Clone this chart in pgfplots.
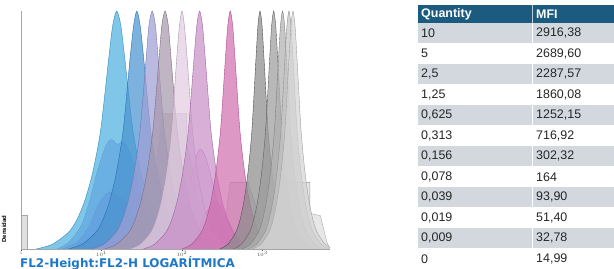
\documentclass[border=0pt]{standalone}
\usepackage{pgfplots}
\usepackage{pgfplotstable}
\pgfplotsset{compat=1.18}
\usepackage{fontspec}
\setmainfont{Liberation Sans}
\newfontfamily\titlefont{DejaVu Sans}

\definecolor{c1}{HTML}{4FB0E0}\definecolor{c1d}{HTML}{2A8CC0}
\definecolor{c2}{HTML}{4A94D0}\definecolor{c2d}{HTML}{2470B0}
\definecolor{c3}{HTML}{A0A0D6}\definecolor{c3d}{HTML}{7474B4}
\definecolor{c4}{HTML}{A898AC}\definecolor{c4d}{HTML}{806884}
\definecolor{c5}{HTML}{E2CCE2}\definecolor{c5d}{HTML}{B090B0}
\definecolor{c6}{HTML}{C890C8}\definecolor{c6d}{HTML}{A060A0}
\definecolor{c7}{HTML}{D070B0}\definecolor{c7d}{HTML}{B04890}
\definecolor{c8}{HTML}{8C8C8C}\definecolor{c8d}{HTML}{505050}
\definecolor{c9}{HTML}{9C9C9C}\definecolor{c9d}{HTML}{606060}
\definecolor{c10}{HTML}{B0B0B0}\definecolor{c10d}{HTML}{808080}
\definecolor{c11}{HTML}{C4C4C4}\definecolor{c11d}{HTML}{909090}
\definecolor{c12}{HTML}{D4D4D4}\definecolor{c12d}{HTML}{A0A0A0}
\definecolor{hdr}{HTML}{1C5B80}
\definecolor{rowshade}{HTML}{D3D8DF}
\definecolor{ttl}{HTML}{1E78C8}

\pgfplotstableread{
s c1 c2 c3 c4 c5 c6 c7 c8 c9 c10 c11 c12
0 0.19 0.59 0.88 1.04 1.35 1.52 2.00 2.47 2.64 2.75 2.83 2.88
0.02 0.39 0.76 1.03 1.19 1.48 1.66 2.12 2.57 2.74 2.85 2.93 2.98
0.07 0.59 0.93 1.18 1.34 1.61 1.80 2.24 2.67 2.84 2.95 3.03 3.08
0.12 0.69 1.015 1.255 1.415 1.675 1.87 2.30 2.72 2.89 3.00 3.08 3.13
0.2 0.79 1.10 1.33 1.49 1.74 1.94 2.36 2.77 2.94 3.05 3.13 3.18
0.32 0.89 1.185 1.405 1.565 1.805 2.01 2.42 2.82 2.99 3.10 3.18 3.23
0.5 0.99 1.27 1.48 1.64 1.87 2.08 2.48 2.87 3.04 3.15 3.23 3.28
0.8 1.09 1.355 1.555 1.715 1.935 2.15 2.54 2.92 3.09 3.20 3.28 3.33
0.94 1.14 1.40 1.59 1.75 1.97 2.185 2.57 2.945 3.115 3.225 3.305 3.355
1 1.19 1.44 1.63 1.79 2.00 2.22 2.60 2.97 3.14 3.25 3.33 3.38
0.94 1.24 1.48 1.67 1.83 2.03 2.255 2.63 2.995 3.165 3.275 3.355 3.405
0.8 1.29 1.525 1.705 1.865 2.065 2.29 2.66 3.02 3.19 3.30 3.38 3.43
0.5 1.39 1.61 1.78 1.94 2.13 2.36 2.72 3.07 3.24 3.35 3.43 3.48
0.32 1.49 1.695 1.855 2.015 2.195 2.43 2.78 3.12 3.29 3.40 3.48 3.53
0.2 1.59 1.78 1.93 2.09 2.26 2.50 2.84 3.17 3.34 3.45 3.53 3.58
0.12 1.69 1.865 2.005 2.165 2.325 2.57 2.90 3.22 3.39 3.50 3.58 3.63
0.07 1.79 1.95 2.08 2.24 2.39 2.64 2.96 3.27 3.44 3.55 3.63 3.68
0.02 1.99 2.12 2.23 2.39 2.52 2.78 3.08 3.37 3.54 3.65 3.73 3.78
0 2.19 2.29 2.38 2.54 2.65 2.92 3.20 3.47 3.64 3.75 3.83 3.88
}\mainpeaks

\begin{document}
\begin{tikzpicture}
\path[use as bounding box] (0,0) rectangle (614bp,269bp);
\begin{axis}[
  at={(21bp,20bp)}, anchor=south west,
  scale only axis, width=309bp, height=238bp,
  xmin=0, xmax=3.84, ymin=0, ymax=1,
  axis x line=bottom, axis y line=left,
  axis line style={draw=gray!70, line width=0.6pt, -},
  ytick=\empty,
  xtick={0,1,2,3},
  xticklabels={1,$10^1$,$10^2$,$10^3$},
  minor xtick={0.301,0.477,0.602,0.699,0.778,0.845,0.903,0.954,1.301,1.477,1.602,1.699,1.778,1.845,1.903,1.954,2.301,2.477,2.602,2.699,2.778,2.845,2.903,2.954,3.301,3.477,3.602,3.699,3.778},
  tick align=outside, major tick length=2bp, minor tick length=1.5bp,
  tick style={draw=gray!60!black, line width=0.4pt},
  xticklabel style={font=\fontsize{3.5}{4}\selectfont, text=gray!60!black, inner sep=0.5pt},
  clip=true,
]
% zero bin
\addplot[fill=gray!25, draw=gray!70, line width=0.4pt] coordinates {(0,0) (0,0.142) (0.075,0.142) (0.075,0)};
% stepped gray histograms (behind)
\addplot[fill=c4!70!gray, fill opacity=0.4, draw=gray!80, line width=0.3pt] coordinates {(1.5,0) (1.6,0.1) (1.65,0.25) (1.7,0.4) (1.76,0.57) (2.06,0.57) (2.06,0.45) (2.12,0.35) (2.2,0.2) (2.3,0.08) (2.45,0)};
\addplot[fill=c10, fill opacity=0.4, draw=gray!80, line width=0.3pt] coordinates {(2.35,0) (2.45,0.05) (2.55,0.15) (2.6,0.28) (2.82,0.28) (2.9,0.2) (3.0,0.08) (3.1,0)};
\addplot[fill=c11, fill opacity=0.4, draw=gray!80, line width=0.3pt] coordinates {(2.9,0) (3.0,0.08) (3.1,0.18) (3.3,0.28) (3.59,0.28) (3.59,0.15) (3.72,0.14) (3.8,0.03) (3.84,0)};
% secondary low populations
\addplot[smooth, tension=0.5, fill=c3!80!blue, fill opacity=0.6, draw=c3d, line width=0.3pt] coordinates {(0.45,0) (0.6,0.03) (0.75,0.1) (0.85,0.2) (0.95,0.33) (1.05,0.43) (1.12,0.46) (1.2,0.44) (1.28,0.45) (1.38,0.38) (1.48,0.25) (1.58,0.12) (1.7,0.04) (1.85,0)};
\addplot[smooth, tension=0.5, fill=c6!70!blue, fill opacity=0.6, draw=c6d, line width=0.3pt] coordinates {(0.5,0) (0.7,0.03) (0.85,0.1) (0.95,0.18) (1.05,0.23) (1.12,0.24) (1.2,0.22) (1.3,0.2) (1.4,0.15) (1.5,0.08) (1.65,0.02) (1.8,0)};
\addplot[smooth, tension=0.5, fill=c7, fill opacity=0.6, draw=c7d, line width=0.3pt] coordinates {(0.6,0) (0.8,0.02) (0.95,0.07) (1.05,0.1) (1.12,0.11) (1.22,0.1) (1.32,0.07) (1.45,0.03) (1.6,0)};
\addplot[smooth, tension=0.5, fill=c8d, fill opacity=0.6, draw=c8d, line width=0.3pt] coordinates {(0.8,0) (0.95,0.015) (1.05,0.03) (1.12,0.035) (1.2,0.03) (1.3,0.015) (1.45,0)};
\addplot[smooth, tension=0.5, fill=c6!60, fill opacity=0.6, draw=c6d, line width=0.3pt] coordinates {(1.8,0) (1.95,0.08) (2.05,0.2) (2.15,0.35) (2.22,0.42) (2.3,0.38) (2.4,0.25) (2.5,0.12) (2.6,0.04) (2.75,0)};
\addplot[smooth, tension=0.5, fill=c7, fill opacity=0.55, draw=c7d, line width=0.3pt] coordinates {(2.0,0) (2.15,0.05) (2.3,0.15) (2.4,0.2) (2.5,0.17) (2.6,0.1) (2.7,0.03) (2.8,0)};
% main peaks
\addplot[smooth, tension=0.45, fill=c1, fill opacity=0.72, draw=c1d, line width=0.4pt] table[x=c1,y=s] {\mainpeaks};
\addplot[smooth, tension=0.45, fill=c2, fill opacity=0.72, draw=c2d, line width=0.4pt] table[x=c2,y=s] {\mainpeaks};
\addplot[smooth, tension=0.45, fill=c3, fill opacity=0.72, draw=c3d, line width=0.4pt] table[x=c3,y=s] {\mainpeaks};
\addplot[smooth, tension=0.45, fill=c4, fill opacity=0.72, draw=c4d, line width=0.4pt] table[x=c4,y=s] {\mainpeaks};
\addplot[smooth, tension=0.45, fill=c5, fill opacity=0.72, draw=c5d, line width=0.4pt] table[x=c5,y=s] {\mainpeaks};
\addplot[smooth, tension=0.45, fill=c6, fill opacity=0.72, draw=c6d, line width=0.4pt] table[x=c6,y=s] {\mainpeaks};
\addplot[smooth, tension=0.45, fill=c7, fill opacity=0.72, draw=c7d, line width=0.4pt] table[x=c7,y=s] {\mainpeaks};
\addplot[smooth, tension=0.45, fill=c8, fill opacity=0.72, draw=c8d, line width=0.4pt] table[x=c8,y=s] {\mainpeaks};
\addplot[smooth, tension=0.45, fill=c9, fill opacity=0.72, draw=c9d, line width=0.4pt] table[x=c9,y=s] {\mainpeaks};
\addplot[smooth, tension=0.45, fill=c10, fill opacity=0.72, draw=c10d, line width=0.4pt] table[x=c10,y=s] {\mainpeaks};
\addplot[smooth, tension=0.45, fill=c11, fill opacity=0.72, draw=c11d, line width=0.4pt] table[x=c11,y=s] {\mainpeaks};
\addplot[smooth, tension=0.45, fill=c12, fill opacity=0.72, draw=c12d, line width=0.4pt] table[x=c12,y=s] {\mainpeaks};
\end{axis}
% y label and title
\node[rotate=90, font=\fontsize{6}{6}\selectfont\bfseries, inner sep=0pt] at (4bp,40bp) {Densidad};
\node[anchor=base west, inner sep=0pt, text=ttl, font=\titlefont\bfseries\fontsize{12}{12}\selectfont] at (20bp,1.5bp) {FL2-Height:FL2-H LOGARÍTMICA};
% table
\fill[hdr] (418bp,246bp) rectangle (614bp,264bp);
\draw[white!70!hdr, line width=0.8pt] (532bp,246bp) -- (532bp,264bp);
\node[anchor=west, text=white, font=\bfseries\fontsize{12.5}{12.5}\selectfont, inner sep=0pt] at (421bp,255bp) {Quantity};
\node[anchor=west, text=white, font=\bfseries\fontsize{12.5}{12.5}\selectfont, inner sep=0pt] at (536bp,255bp) {MFI};
\foreach \q/\m [count=\k] in {10/{2916,38},5/{2689,60},{2,5}/{2287,57},{1,25}/{1860,08},{0,625}/{1252,15},{0,313}/{716,92},{0,156}/{302,32},{0,078}/{164},{0,039}/{93,90},{0,019}/{51,40},{0,009}/{32,78},0/{14,99}}{
  \pgfmathsetmacro{\rtop}{246-(\k-1)*20.5}
  \pgfmathsetmacro{\rbot}{246-\k*20.5}
  \pgfmathsetmacro{\rmid}{246-(\k-0.5)*20.5}
  \ifodd\k
    \fill[rowshade] (418bp,\rbot bp) rectangle (614bp,\rtop bp);
  \fi
  \draw[white, line width=0.8pt] (532bp,\rbot bp) -- (532bp,\rtop bp);
  \node[anchor=west, text=black!85, font=\fontsize{12.5}{12.5}\selectfont, inner sep=0pt] at (421bp,\rmid bp) {\q};
  \node[anchor=west, text=black!85, font=\fontsize{12.5}{12.5}\selectfont, inner sep=0pt] at (536bp,\rmid bp) {\m};
}
\end{tikzpicture}
\end{document}
